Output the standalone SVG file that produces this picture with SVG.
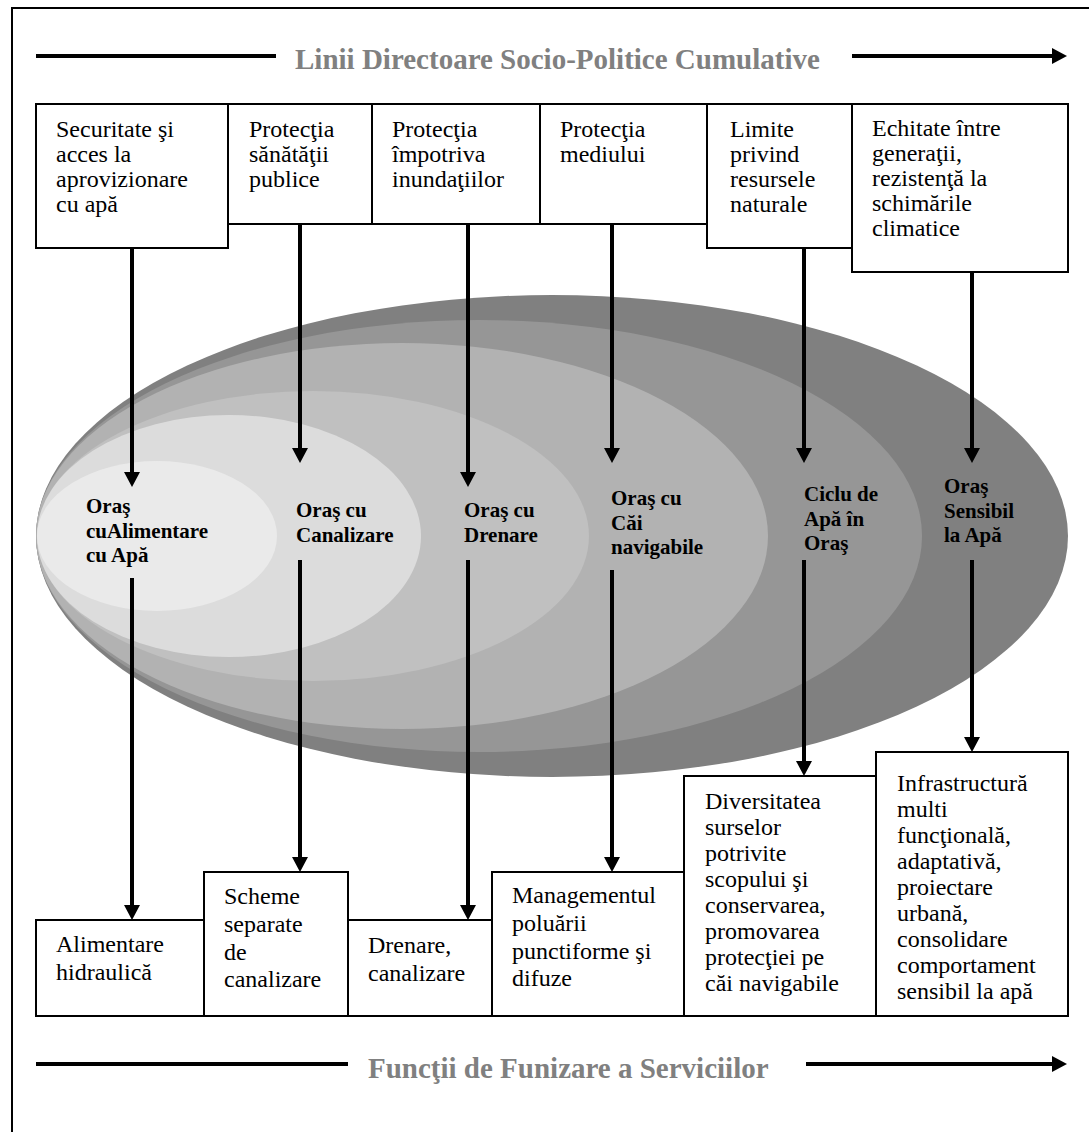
<svg xmlns="http://www.w3.org/2000/svg" width="1089" height="1132" viewBox="0 0 1089 1132">
<style>
.box{fill:#fff;stroke:#000;stroke-width:2}
.t{font-family:"Liberation Serif","Times New Roman",serif;font-size:24px;fill:#000}
.lbl{font-family:"Liberation Serif","Times New Roman",serif;font-weight:bold;font-size:21px;fill:#000}
.title{font-family:"Liberation Serif","Times New Roman",serif;font-weight:bold;font-size:29px;fill:#808080}
.conn{stroke:#000;stroke-width:4;fill:none}
</style>
<defs>
<marker id="ah" markerUnits="userSpaceOnUse" markerWidth="16" markerHeight="16" refX="7" refY="8" orient="auto">
<path d="M0,0 L15,8 L0,16 Z" fill="#000"/>
</marker>
<clipPath id="clipB5"><rect x="684" y="776" width="192" height="228"/></clipPath>
<clipPath id="clipB6"><rect x="876" y="752" width="192" height="252"/></clipPath>
</defs>
<rect width="1089" height="1132" fill="#fff"/>
<rect x="12" y="8" width="1100" height="1150" fill="none" stroke="#000" stroke-width="2"/>

<g id="ellipses">
<ellipse cx="552" cy="536" rx="516" ry="241" fill="#808080"/>
<ellipse cx="479" cy="536" rx="443" ry="216" fill="#969696"/>
<ellipse cx="402" cy="536" rx="366" ry="193" fill="#b2b2b2"/>
<ellipse cx="313" cy="536" rx="276" ry="145" fill="#c0c0c0"/>
<ellipse cx="229" cy="536" rx="192" ry="121" fill="#dcdcdc"/>
<ellipse cx="157" cy="536" rx="120" ry="75" fill="#eaeaea"/>
</g>

<g id="headers">
<text class="title" x="295" y="69">Linii Directoare Socio-Politice Cumulative</text>
<text class="title" x="368" y="1078">Funcţii de Funizare a Serviciilor</text>
</g>

<g id="top-boxes">
<g id="n-securitate"><rect class="box" x="36" y="104" width="192" height="144"/>
<text class="t" x="56" y="137"><tspan x="56">Securitate şi</tspan><tspan x="56" dy="25">acces la</tspan><tspan x="56" dy="25">aprovizionare</tspan><tspan x="56" dy="25">cu apă</tspan></text></g>
<g id="n-sanatate"><rect class="box" x="228" y="104" width="144" height="120"/>
<text class="t" x="249" y="137"><tspan x="249">Protecţia</tspan><tspan x="249" dy="25">sănătăţii</tspan><tspan x="249" dy="25">publice</tspan></text></g>
<g id="n-inundatii"><rect class="box" x="372" y="104" width="168" height="120"/>
<text class="t" x="392" y="137"><tspan x="392">Protecţia</tspan><tspan x="392" dy="25">împotriva</tspan><tspan x="392" dy="25">inundaţiilor</tspan></text></g>
<g id="n-mediu"><rect class="box" x="540" y="104" width="167" height="120"/>
<text class="t" x="560" y="137"><tspan x="560">Protecţia</tspan><tspan x="560" dy="25">mediului</tspan></text></g>
<g id="n-limite"><rect class="box" x="707" y="104" width="145" height="144"/>
<text class="t" x="730" y="137"><tspan x="730">Limite</tspan><tspan x="730" dy="25">privind</tspan><tspan x="730" dy="25">resursele</tspan><tspan x="730" dy="25">naturale</tspan></text></g>
<g id="n-echitate"><rect class="box" x="852" y="104" width="216" height="168"/>
<text class="t" x="872" y="136"><tspan x="872">Echitate între</tspan><tspan x="872" dy="25">generaţii,</tspan><tspan x="872" dy="25">rezistenţă la</tspan><tspan x="872" dy="25">schimările</tspan><tspan x="872" dy="25">climatice</tspan></text></g>
</g>

<g id="city-labels">
<g id="n-oras1"><text class="lbl" x="86" y="513"><tspan x="86">Oraş</tspan><tspan x="86" dy="24.5">cuAlimentare</tspan><tspan x="86" dy="24.5">cu Apă</tspan></text></g>
<g id="n-oras2"><text class="lbl" x="296" y="517"><tspan x="296">Oraş cu</tspan><tspan x="296" dy="24.5">Canalizare</tspan></text></g>
<g id="n-oras3"><text class="lbl" x="464" y="517"><tspan x="464">Oraş cu</tspan><tspan x="464" dy="24.5">Drenare</tspan></text></g>
<g id="n-oras4"><text class="lbl" x="611" y="505"><tspan x="611">Oraş cu</tspan><tspan x="611" dy="24.5">Căi</tspan><tspan x="611" dy="24.5">navigabile</tspan></text></g>
<g id="n-oras5"><text class="lbl" x="804" y="501"><tspan x="804">Ciclu de</tspan><tspan x="804" dy="24.5">Apă în</tspan><tspan x="804" dy="24.5">Oraş</tspan></text></g>
<g id="n-oras6"><text class="lbl" x="944" y="493"><tspan x="944">Oraş</tspan><tspan x="944" dy="24.5">Sensibil</tspan><tspan x="944" dy="24.5">la Apă</tspan></text></g>
</g>

<g id="bottom-boxes">
<g id="n-alimentare"><rect class="box" x="36" y="920" width="168" height="96"/>
<text class="t" x="56" y="952"><tspan x="56">Alimentare</tspan><tspan x="56" dy="27.5">hidraulică</tspan></text></g>
<g id="n-scheme"><rect class="box" x="204" y="872" width="144" height="144"/>
<text class="t" x="224" y="904"><tspan x="224">Scheme</tspan><tspan x="224" dy="27.8">separate</tspan><tspan x="224" dy="27.8">de</tspan><tspan x="224" dy="27.8">canalizare</tspan></text></g>
<g id="n-drenare"><rect class="box" x="348" y="920" width="144" height="96"/>
<text class="t" x="368" y="953"><tspan x="368">Drenare,</tspan><tspan x="368" dy="27.5">canalizare</tspan></text></g>
<g id="n-management"><rect class="box" x="492" y="872" width="192" height="144"/>
<text class="t" x="512" y="903"><tspan x="512">Managementul</tspan><tspan x="512" dy="27.8">poluării</tspan><tspan x="512" dy="27.8">punctiforme şi</tspan><tspan x="512" dy="27.8">difuze</tspan></text></g>
<g id="n-diversitate"><rect class="box" x="684" y="776" width="192" height="240"/>
<text class="t" x="705" y="809" clip-path="url(#clipB5)"><tspan x="705">Diversitatea</tspan><tspan x="705" dy="26">surselor</tspan><tspan x="705" dy="26">potrivite</tspan><tspan x="705" dy="26">scopului şi</tspan><tspan x="705" dy="26">conservarea,</tspan><tspan x="705" dy="26">promovarea</tspan><tspan x="705" dy="26">protecţiei pe</tspan><tspan x="705" dy="26">căi navigabile</tspan></text></g>
<g id="n-infrastructura"><rect class="box" x="876" y="752" width="192" height="264"/>
<text class="t" x="897" y="791" clip-path="url(#clipB6)"><tspan x="897">Infrastructură</tspan><tspan x="897" dy="26">multi</tspan><tspan x="897" dy="26">funcţională,</tspan><tspan x="897" dy="26">adaptativă,</tspan><tspan x="897" dy="26">proiectare</tspan><tspan x="897" dy="26">urbană,</tspan><tspan x="897" dy="26">consolidare</tspan><tspan x="897" dy="26">comportament</tspan><tspan x="897" dy="26">sensibil la apă</tspan></text></g>
</g>

<g id="connectors" class="conn">
<line x1="36" y1="56" x2="276" y2="56"/>
<line x1="852" y1="56" x2="1059" y2="56" marker-end="url(#ah)"/>
<line x1="36" y1="1064" x2="348" y2="1064"/>
<line x1="806" y1="1064" x2="1059" y2="1064" marker-end="url(#ah)"/>

<line x1="132" y1="248" x2="132" y2="479" marker-end="url(#ah)"/>
<line x1="300" y1="224" x2="300" y2="455" marker-end="url(#ah)"/>
<line x1="468" y1="224" x2="468" y2="479" marker-end="url(#ah)"/>
<line x1="612" y1="224" x2="612" y2="455" marker-end="url(#ah)"/>
<line x1="804" y1="248" x2="804" y2="455" marker-end="url(#ah)"/>
<line x1="972" y1="272" x2="972" y2="455" marker-end="url(#ah)"/>

<line x1="132" y1="578" x2="132" y2="912" marker-end="url(#ah)"/>
<line x1="300" y1="560" x2="300" y2="864" marker-end="url(#ah)"/>
<line x1="468" y1="560" x2="468" y2="912" marker-end="url(#ah)"/>
<line x1="612" y1="570" x2="612" y2="864" marker-end="url(#ah)"/>
<line x1="804" y1="560" x2="804" y2="768" marker-end="url(#ah)"/>
<line x1="972" y1="560" x2="972" y2="744" marker-end="url(#ah)"/>
</g>
</svg>
